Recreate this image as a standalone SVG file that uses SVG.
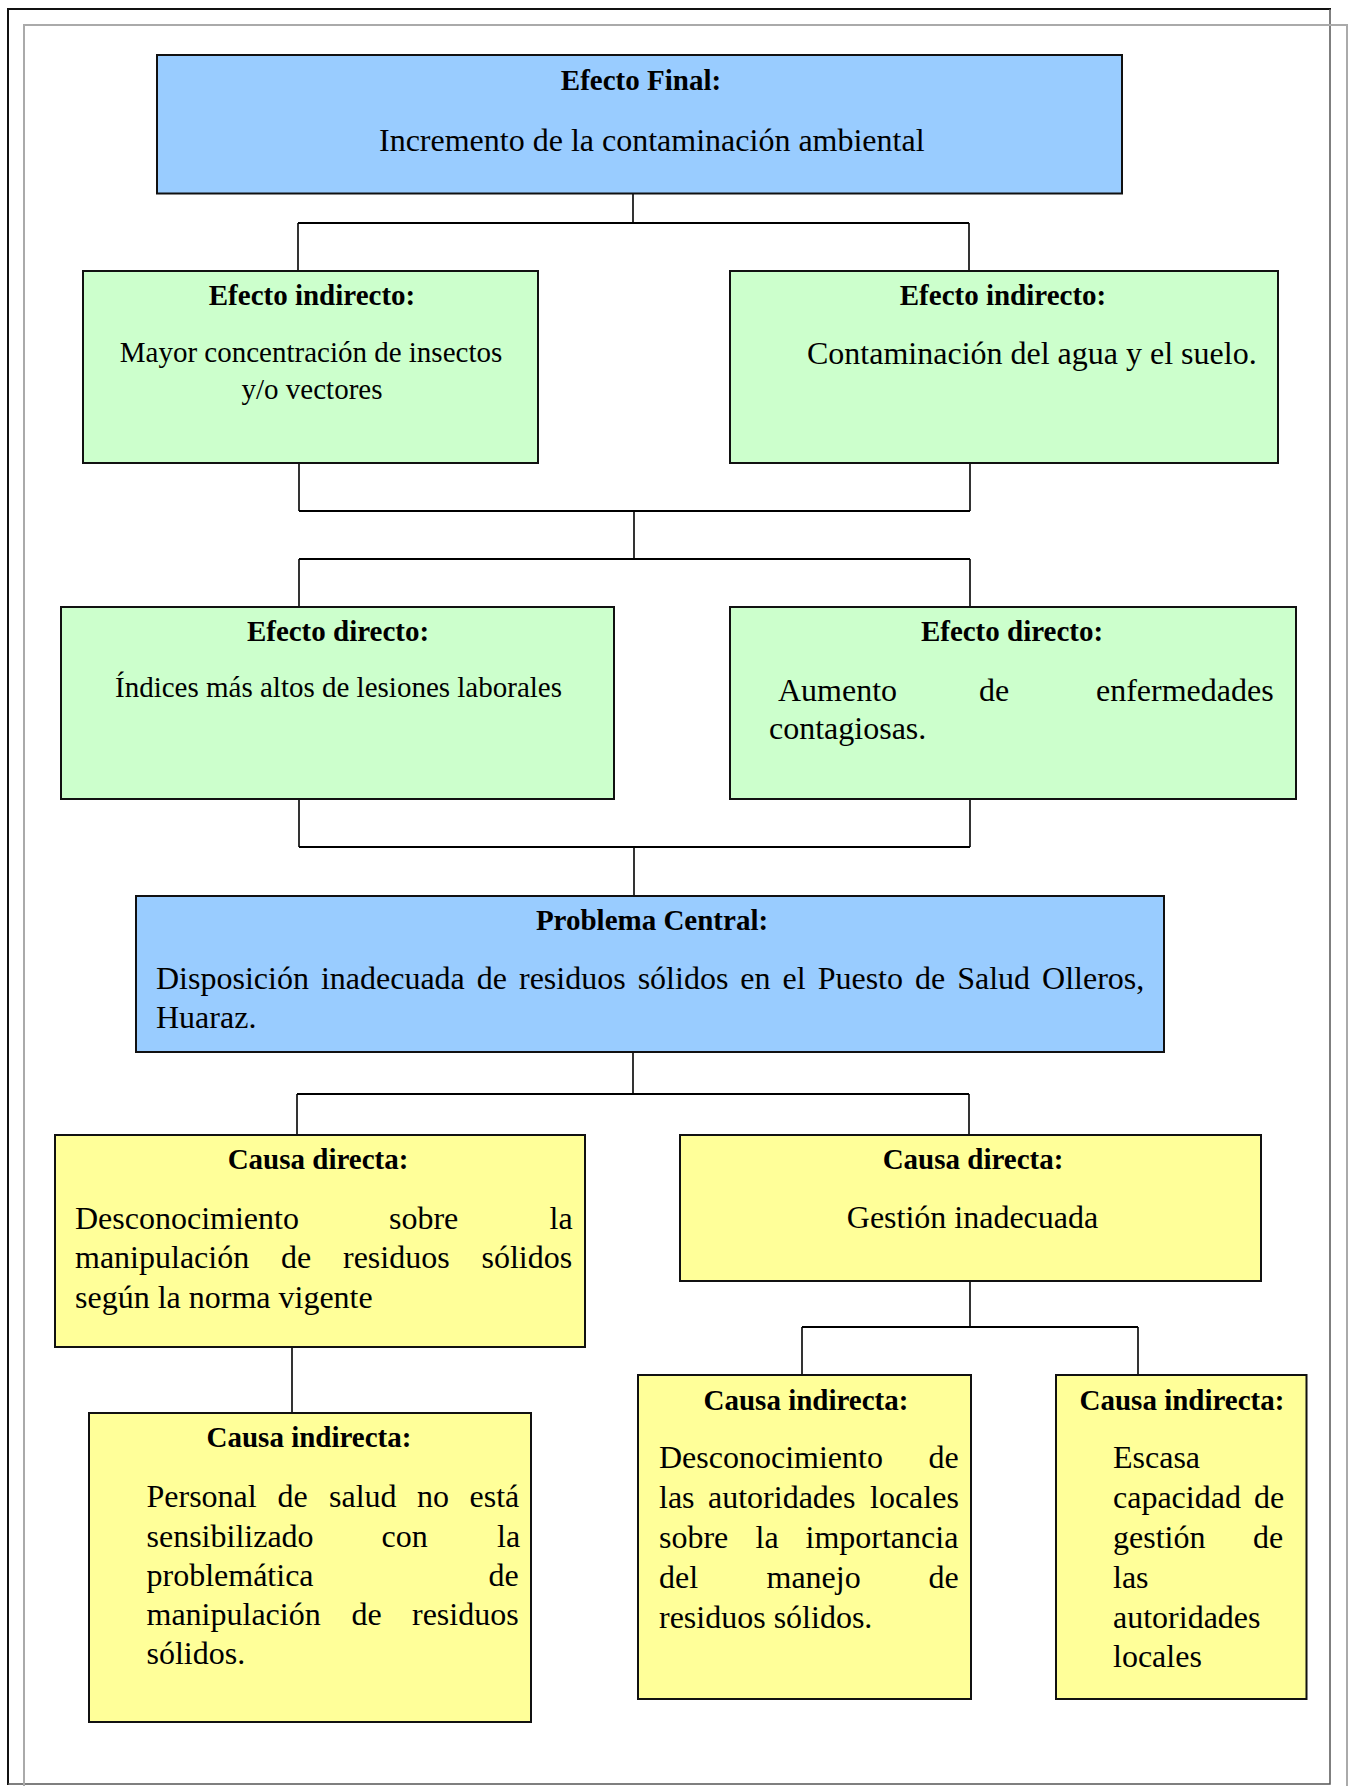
<svg xmlns="http://www.w3.org/2000/svg" width="1352" height="1786" viewBox="0 0 1352 1786">
<style>
.box{stroke:#111;stroke-width:2}
.blue{fill:#99CCFF}
.green{fill:#CCFFCC}
.yellow{fill:#FFFF99}
text{font-family:"Liberation Serif","Times New Roman",serif;fill:#000}
.h{font-weight:bold;font-size:29px;text-anchor:middle}
.b{font-size:32px}
.s{font-size:29px}
.c{text-anchor:middle}
.con line{stroke:#000;stroke-width:1.6}
.con .hz{stroke-width:2.2}
</style>
<rect x="0" y="0" width="1352" height="1786" fill="#fff"/>
<g id="frame" fill="none">
<path d="M8 1785 V9 H1331" stroke="#111" stroke-width="2"/>
<path d="M1330 9 V1784 H8" stroke="#555" stroke-width="1.5"/>
<path d="M24 1786 V25 H1347 V1786" stroke="#aaa" stroke-width="2"/>
</g>
<g id="connectors" class="con">
<line x1="633" y1="194" x2="633" y2="223"/>
<line class="hz" x1="298" y1="223" x2="969" y2="223"/>
<line x1="298" y1="223" x2="298" y2="271"/>
<line x1="969" y1="223" x2="969" y2="271"/>
<line x1="299" y1="463" x2="299" y2="511"/>
<line x1="970" y1="463" x2="970" y2="511"/>
<line class="hz" x1="299" y1="511" x2="970" y2="511"/>
<line x1="634" y1="511" x2="634" y2="559"/>
<line class="hz" x1="299" y1="559" x2="970" y2="559"/>
<line x1="299" y1="559" x2="299" y2="607"/>
<line x1="970" y1="559" x2="970" y2="607"/>
<line x1="299" y1="799" x2="299" y2="847"/>
<line x1="970" y1="799" x2="970" y2="847"/>
<line class="hz" x1="299" y1="847" x2="970" y2="847"/>
<line x1="634" y1="847" x2="634" y2="896"/>
<line x1="633" y1="1052" x2="633" y2="1094"/>
<line class="hz" x1="297" y1="1094" x2="969" y2="1094"/>
<line x1="297" y1="1094" x2="297" y2="1135"/>
<line x1="969" y1="1094" x2="969" y2="1135"/>
<line x1="292" y1="1347" x2="292" y2="1413"/>
<line x1="970" y1="1281" x2="970" y2="1327"/>
<line class="hz" x1="802" y1="1327" x2="1138" y2="1327"/>
<line x1="802" y1="1327" x2="802" y2="1375"/>
<line x1="1138" y1="1327" x2="1138" y2="1375"/>
</g>
<g id="efecto-final">
<rect class="box blue" x="157" y="55" width="965" height="138.5"/>
<text class="h" x="641" y="90">Efecto Final:</text>
<text class="b" x="379" y="151">Incremento de la contaminación ambiental</text>
</g>
<g id="efecto-indirecto-1">
<rect class="box green" x="83" y="271" width="455" height="192"/>
<text class="h" x="312" y="305">Efecto indirecto:</text>
<text class="s c" x="311" y="362">Mayor concentración de insectos</text>
<text class="s c" x="312" y="399">y/o vectores</text>
</g>
<g id="efecto-indirecto-2">
<rect class="box green" x="730" y="271" width="548" height="192"/>
<text class="h" x="1003" y="305">Efecto indirecto:</text>
<text class="b" x="807" y="364">Contaminación del agua y el suelo.</text>
</g>
<g id="efecto-directo-1">
<rect class="box green" x="61" y="607" width="553" height="192"/>
<text class="h" x="338" y="641">Efecto directo:</text>
<text class="s c" x="338.5" y="697">Índices más altos de lesiones laborales</text>
</g>
<g id="efecto-directo-2">
<rect class="box green" x="730" y="607" width="566" height="192"/>
<text class="h" x="1012" y="641">Efecto directo:</text>
<text class="b" y="701"><tspan x="778">Aumento</tspan><tspan x="979">de</tspan><tspan x="1096">enfermedades</tspan></text>
<text class="b" x="769" y="739">contagiosas.</text>
</g>
<g id="problema-central">
<rect class="box blue" x="136" y="896" width="1028" height="156"/>
<text class="h" x="652" y="930">Problema Central:</text>
<text class="b" x="156" y="989" word-spacing="4">Disposición inadecuada de residuos sólidos en el Puesto de Salud Olleros,</text>
<text class="b" x="156" y="1028">Huaraz.</text>
</g>
<g id="causa-directa-1">
<rect class="box yellow" x="55" y="1135" width="530" height="212"/>
<text class="h" x="318" y="1169">Causa directa:</text>
<text class="b" y="1229"><tspan x="75">Desconocimiento</tspan><tspan x="389">sobre</tspan><tspan x="549.5">la</tspan></text>
<text class="b" y="1268"><tspan x="75">manipulación</tspan><tspan x="281">de</tspan><tspan x="343">residuos</tspan><tspan x="481.5">sólidos</tspan></text>
<text class="b" x="75" y="1308">según la norma vigente</text>
</g>
<g id="causa-directa-2">
<rect class="box yellow" x="680" y="1135" width="581" height="146"/>
<text class="h" x="973" y="1169">Causa directa:</text>
<text class="b c" x="972.5" y="1228">Gestión inadecuada</text>
</g>
<g id="causa-indirecta-1">
<rect class="box yellow" x="89" y="1413" width="442" height="309"/>
<text class="h" x="309" y="1447">Causa indirecta:</text>
<text class="b" y="1507"><tspan x="146.5">Personal</tspan><tspan x="277.5">de</tspan><tspan x="329">salud</tspan><tspan x="417">no</tspan><tspan x="469.5">está</tspan></text>
<text class="b" y="1546.5"><tspan x="146.5">sensibilizado</tspan><tspan x="381.5">con</tspan><tspan x="497">la</tspan></text>
<text class="b" y="1585.5"><tspan x="146.5">problemática</tspan><tspan x="488.5">de</tspan></text>
<text class="b" y="1625"><tspan x="146.5">manipulación</tspan><tspan x="351.5">de</tspan><tspan x="412">residuos</tspan></text>
<text class="b" x="146.5" y="1664">sólidos.</text>
</g>
<g id="causa-indirecta-2">
<rect class="box yellow" x="638" y="1375" width="333" height="324"/>
<text class="h" x="806" y="1410">Causa indirecta:</text>
<text class="b" y="1468"><tspan x="659">Desconocimiento</tspan><tspan x="928.5">de</tspan></text>
<text class="b" y="1508"><tspan x="659">las</tspan><tspan x="708">autoridades</tspan><tspan x="870">locales</tspan></text>
<text class="b" y="1548"><tspan x="659">sobre</tspan><tspan x="755.5">la</tspan><tspan x="805.5">importancia</tspan></text>
<text class="b" y="1588"><tspan x="659">del</tspan><tspan x="766.5">manejo</tspan><tspan x="928.5">de</tspan></text>
<text class="b" x="659" y="1628">residuos sólidos.</text>
</g>
<g id="causa-indirecta-3">
<rect class="box yellow" x="1056" y="1375" width="250.5" height="324"/>
<text class="h" x="1182" y="1410">Causa indirecta:</text>
<text class="b" x="1113" y="1468">Escasa</text>
<text class="b" y="1508"><tspan x="1113">capacidad</tspan><tspan x="1254">de</tspan></text>
<text class="b" y="1548"><tspan x="1113">gestión</tspan><tspan x="1253">de</tspan></text>
<text class="b" x="1113" y="1588">las</text>
<text class="b" x="1113" y="1628">autoridades</text>
<text class="b" x="1113" y="1667">locales</text>
</g>
</svg>
